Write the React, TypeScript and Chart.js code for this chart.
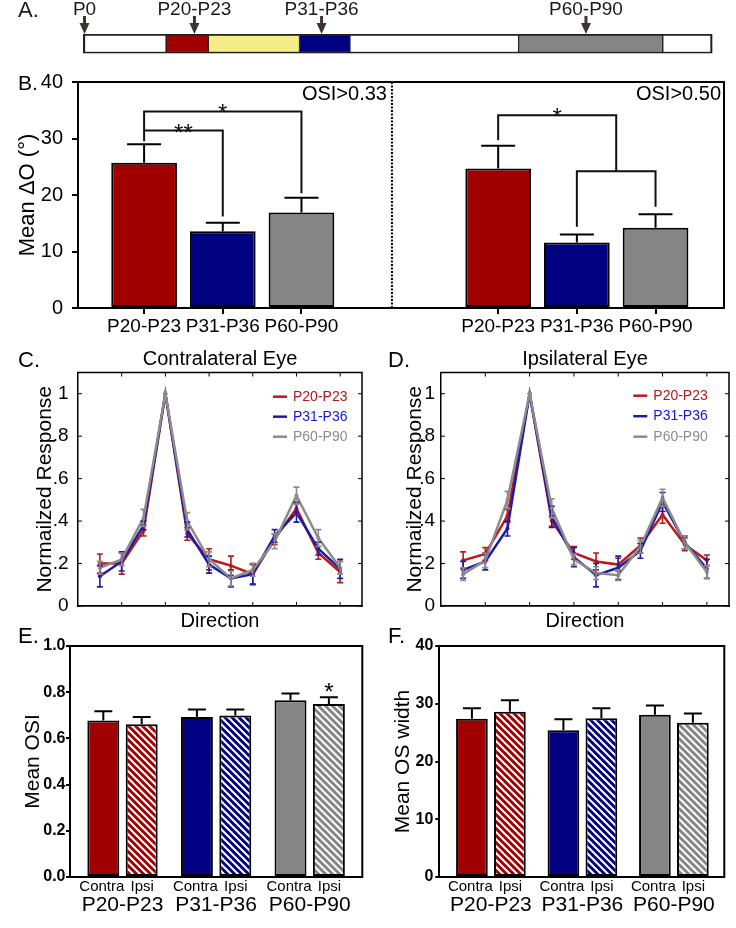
import React, { useEffect, useRef } from 'react';
import { Chart, registerables } from 'chart.js';

Chart.register(...registerables);

const FONT = '"Liberation Sans", Arial, Helvetica, sans-serif';

// ---------------- data ----------------
// A. developmental timeline (segment lengths along the bar, arbitrary units)
const timelineSegments = [13.2, 6.7, 14.5, 8.0, 26.8, 22.9, 7.9];
const timelineMarkLabels = ['P0', 'P20-P23', 'P31-P36', 'P60-P90'];
const timelineMarkValues = [0, 17.7, 37.9, 79.9];

// B. mean delta orientation
const ageGroups = ['P20-P23', 'P31-P36', 'P60-P90'];
const deltaOsi033 = [25.7, 13.6, 16.9];
const deltaOsi033Err = [3.3, 1.5, 2.6];
const deltaOsi050 = [24.7, 11.6, 14.2];
const deltaOsi050Err = [4.0, 1.4, 2.4];
const deltaTicks = [0, 10, 20, 30, 40];
const bracket033 = [34.8, 31.4];
const bracket050 = [34.1, 24.2];

// C, D. tuning curves
const directions = [0, 30, 60, 90, 120, 150, 180, 210, 240, 270, 300, 330];
const directionTicks = [30, 90, 150, 210, 270, 330];
const responseTicks = [0, 0.2, 0.4, 0.6, 0.8, 1];

const contraP20 = [0.2, 0.2, 0.355, 1.0, 0.34, 0.22, 0.19, 0.15, 0.315, 0.46, 0.25, 0.16];
const contraP20Err = [0.045, 0.05, 0.025, 0, 0.03, 0.05, 0.045, 0.045, 0.025, 0.03, 0.03, 0.05];
const contraP31 = [0.14, 0.21, 0.38, 1.0, 0.36, 0.195, 0.13, 0.15, 0.33, 0.44, 0.27, 0.175];
const contraP31Err = [0.05, 0.045, 0.02, 0, 0.035, 0.04, 0.04, 0.05, 0.03, 0.045, 0.03, 0.045];
const contraP60 = [0.18, 0.22, 0.415, 1.0, 0.4, 0.22, 0.13, 0.17, 0.305, 0.52, 0.32, 0.18];
const contraP60Err = [0.03, 0.03, 0.04, 0, 0.04, 0.035, 0.035, 0.03, 0.035, 0.04, 0.04, 0.03];

const ipsiP20 = [0.215, 0.245, 0.425, 1.0, 0.4, 0.25, 0.21, 0.195, 0.285, 0.43, 0.29, 0.215];
const ipsiP20Err = [0.04, 0.03, 0.03, 0, 0.025, 0.03, 0.04, 0.03, 0.035, 0.04, 0.03, 0.025];
const ipsiP31 = [0.17, 0.21, 0.365, 1.0, 0.42, 0.23, 0.145, 0.18, 0.26, 0.49, 0.3, 0.175];
const ipsiP31Err = [0.04, 0.04, 0.035, 0, 0.05, 0.045, 0.055, 0.055, 0.035, 0.045, 0.03, 0.045];
const ipsiP60 = [0.15, 0.215, 0.5, 1.0, 0.46, 0.22, 0.155, 0.145, 0.28, 0.51, 0.3, 0.16];
const ipsiP60Err = [0.03, 0.035, 0.04, 0, 0.045, 0.025, 0.03, 0.025, 0.03, 0.04, 0.03, 0.03];

// E. mean OSI
const osiContra = [0.678, 0.693, 0.765];
const osiContraErr = [0.039, 0.032, 0.029];
const osiIpsi = [0.661, 0.699, 0.749];
const osiIpsiErr = [0.032, 0.026, 0.029];
const osiIpsiSig = ['', '', '*'];
const osiTicks = [0, 0.2, 0.4, 0.6, 0.8, 1.0];

// F. mean OS width
const osWidthContra = [27.4, 25.4, 28.1];
const osWidthContraErr = [1.8, 1.9, 1.6];
const osWidthIpsi = [28.6, 27.5, 26.7];
const osWidthIpsiErr = [2.0, 1.7, 1.6];
const osWidthSig = ['', '', ''];
const osWidthTicks = [0, 10, 20, 30, 40];

// ---------------- styles ----------------
const C_RED = '#a00000';
const C_BLUE = '#000080';
const C_GRAY = '#858585';
const C_YELLOW = '#f3ee86';
const C_WHITE = '#ffffff';
const timelineColors = [C_WHITE, C_RED, C_YELLOW, C_BLUE, C_WHITE, C_GRAY, C_WHITE];
const groupColors = [C_RED, C_BLUE, C_GRAY];
const lineColors = ['#bb1a1a', '#1c1ca8', '#8c8c8c'];
const legendTextColors = ['#b5161b', '#1414e6', '#8c8c8c'];

// ---------------- helpers ----------------
const setTicks = (values: number[]) => (s: any) => {
  s.ticks = values.map((v) => ({ value: v }));
};

function put(
  ctx: CanvasRenderingContext2D,
  text: string,
  x: number,
  y: number,
  size: number,
  align: CanvasTextAlign = 'left',
  color = '#000',
  weight = 'normal',
  baseline: CanvasTextBaseline = 'alphabetic'
) {
  ctx.save();
  ctx.font = `${weight} ${size}px ${FONT}`;
  ctx.fillStyle = color;
  ctx.textAlign = align;
  ctx.textBaseline = baseline;
  ctx.fillText(text, x, y);
  ctx.restore();
}

function makeHatch(color: string) {
  const s = 7;
  const c = document.createElement('canvas');
  c.width = s;
  c.height = s;
  const g = c.getContext('2d')!;
  g.fillStyle = color;
  g.fillRect(0, 0, s, s);
  g.strokeStyle = '#ffffff';
  g.lineWidth = 2;
  g.beginPath();
  g.moveTo(0, 0);
  g.lineTo(s, s);
  g.moveTo(-2, s - 2);
  g.lineTo(2, s + 2);
  g.moveTo(s - 2, -2);
  g.lineTo(s + 2, 2);
  g.stroke();
  return g.createPattern(c, 'repeat');
}

const framePlugin = (lw: number) => ({
  id: 'frame',
  afterDraw(chart: any) {
    const { ctx, chartArea: a } = chart;
    ctx.save();
    ctx.strokeStyle = '#000';
    ctx.lineWidth = lw;
    ctx.beginPath();
    ctx.moveTo(a.left - lw / 2, a.top);
    ctx.lineTo(a.right, a.top);
    ctx.lineTo(a.right, a.bottom + lw / 2);
    ctx.stroke();
    ctx.restore();
  },
});

const textPlugin = (items: (chart: any) => any[]) => ({
  id: 'texts',
  afterDraw(chart: any) {
    items(chart).forEach((t) =>
      put(chart.ctx, t.text, t.x, t.y, t.size, t.align || 'left', t.color || '#000', t.weight || 'normal', t.baseline || 'alphabetic')
    );
  },
});

const barErrorPlugin = (cap: number) => ({
  id: 'barErr',
  afterDatasetsDraw(chart: any) {
    const { ctx } = chart;
    const ys = chart.scales.y;
    ctx.save();
    ctx.strokeStyle = '#000';
    ctx.lineWidth = 2;
    chart.data.datasets.forEach((ds: any, di: number) => {
      const meta = chart.getDatasetMeta(di);
      meta.data.forEach((bar: any, i: number) => {
        const v = ds.data[i].y;
        const e = ds.errors[i];
        const y0 = ys.getPixelForValue(v);
        const y1 = ys.getPixelForValue(v + e);
        ctx.beginPath();
        ctx.moveTo(bar.x, y0);
        ctx.lineTo(bar.x, y1);
        ctx.moveTo(bar.x - cap, y1);
        ctx.lineTo(bar.x + cap, y1);
        ctx.stroke();
        if (ds.sig && ds.sig[i]) {
          put(ctx, ds.sig[i], bar.x, y1 + 3, 24, 'center');
        }
      });
    });
    ctx.restore();
  },
});

const lineErrorPlugin = {
  id: 'lineErr',
  afterDatasetsDraw(chart: any) {
    const { ctx } = chart;
    const ys = chart.scales.y;
    ctx.save();
    ctx.lineWidth = 1.6;
    chart.data.datasets.forEach((ds: any, di: number) => {
      const meta = chart.getDatasetMeta(di);
      ctx.strokeStyle = ds.borderColor;
      meta.data.forEach((pt: any, i: number) => {
        const v = ds.data[i].y;
        const e = ds.errors[i];
        if (!e) return;
        const yTop = ys.getPixelForValue(v + e);
        const yBot = ys.getPixelForValue(v - e);
        ctx.beginPath();
        ctx.moveTo(pt.x, yTop);
        ctx.lineTo(pt.x, yBot);
        ctx.moveTo(pt.x - 3, yTop);
        ctx.lineTo(pt.x + 3, yTop);
        ctx.moveTo(pt.x - 3, yBot);
        ctx.lineTo(pt.x + 3, yBot);
        ctx.stroke();
      });
    });
    ctx.restore();
  },
};

const insideTicksPlugin = {
  id: 'insideTicks',
  afterDraw(chart: any) {
    const { ctx, chartArea: a } = chart;
    const xs = chart.scales.x;
    const ys = chart.scales.y;
    const len = 4;
    ctx.save();
    ctx.strokeStyle = '#000';
    ctx.lineWidth = 1;
    ctx.beginPath();
    ys.ticks.forEach((t: any) => {
      const py = ys.getPixelForValue(t.value);
      ctx.moveTo(a.left, py);
      ctx.lineTo(a.left + len, py);
      ctx.moveTo(a.right - len, py);
      ctx.lineTo(a.right, py);
    });
    xs.ticks.forEach((t: any) => {
      const px = xs.getPixelForValue(t.value);
      ctx.moveTo(px, a.bottom);
      ctx.lineTo(px, a.bottom - len);
      ctx.moveTo(px, a.top);
      ctx.lineTo(px, a.top + len);
    });
    ctx.stroke();
    ctx.restore();
  },
};

const lineLegendPlugin = (x0: number, y0: number, step: number) => ({
  id: 'lineLegend',
  afterDraw(chart: any) {
    const { ctx } = chart;
    chart.data.datasets.forEach((ds: any, i: number) => {
      const y = y0 + i * step;
      ctx.save();
      ctx.strokeStyle = ds.borderColor;
      ctx.lineWidth = 2.5;
      ctx.beginPath();
      ctx.moveTo(x0, y);
      ctx.lineTo(x0 + 14, y);
      ctx.stroke();
      ctx.restore();
      put(ctx, ds.label, x0 + 20, y, 14, 'left', ds.legendColor, 'normal', 'middle');
    });
  },
});

// ---------------- configs ----------------
function configA() {
  const last = timelineSegments.length - 1;
  const timelinePlugin = {
    id: 'timelineMarks',
    afterDraw(chart: any) {
      const { ctx } = chart;
      const xs = chart.scales.x;
      const top = chart.chartArea.top;
      ctx.save();
      ctx.fillStyle = '#3b3430';
      timelineMarkValues.forEach((v, i) => {
        const px = xs.getPixelForValue(v) + (i === 0 ? 1.5 : 0);
        ctx.fillRect(px - 1.5, 16, 3, 9);
        ctx.beginPath();
        ctx.moveTo(px - 5, 23);
        ctx.lineTo(px + 5, 23);
        ctx.lineTo(px, top);
        ctx.closePath();
        ctx.fill();
        put(ctx, timelineMarkLabels[i], px, 15, 19, 'center', '#1a1a1a');
      });
      ctx.restore();
      put(ctx, 'A.', 18, 17, 22, 'left', '#1a1a1a');
    },
  };
  return {
    type: 'bar',
    data: {
      labels: ['age'],
      datasets: timelineSegments.map((v, i) => ({
        data: [v],
        backgroundColor: timelineColors[i],
        borderColor: '#231f20',
        borderWidth: { top: 2, bottom: 2, left: i === 0 ? 2.5 : 1, right: i === last ? 2.5 : 1 },
        borderSkipped: false,
        barPercentage: 1,
        categoryPercentage: 1,
      })),
    },
    options: {
      indexAxis: 'y',
      animation: false,
      responsive: false,
      layout: { padding: { left: 83, right: 23.5, top: 34, bottom: 8.5 } },
      scales: {
        x: { stacked: true, min: 0, max: 100, display: false },
        y: { stacked: true, display: false },
      },
      plugins: { legend: { display: false }, tooltip: { enabled: false } },
    },
    plugins: [timelinePlugin],
  };
}

function configB() {
  const leftPos = ageGroups.map((_, i) => i + 1);
  const rightPos = ageGroups.map((_, i) => i + 5.5);
  const positions = [...leftPos, ...rightPos];
  const values = [...deltaOsi033, ...deltaOsi050];
  const errors = [...deltaOsi033Err, ...deltaOsi050Err];
  const divider = 4.15;

  const bracketPlugin = {
    id: 'brackets',
    afterDatasetsDraw(chart: any) {
      const { ctx, chartArea: a } = chart;
      const xs = chart.scales.x;
      const ys = chart.scales.y;
      const P = (x: number, y: number) => [xs.getPixelForValue(x), ys.getPixelForValue(y)];
      const path = (pts: number[][]) => {
        ctx.beginPath();
        pts.forEach(([x, y], i) => {
          const [px, py] = P(x, y);
          if (i) ctx.lineTo(px, py);
          else ctx.moveTo(px, py);
        });
        ctx.stroke();
      };
      const topL = deltaOsi033.map((v, i) => v + deltaOsi033Err[i]);
      const topR = deltaOsi050.map((v, i) => v + deltaOsi050Err[i]);
      const [h1, h2] = bracket033;
      const [h3, h4] = bracket050;
      ctx.save();
      ctx.strokeStyle = '#111';
      ctx.lineWidth = 2;
      path([[leftPos[0], topL[0] + 0.5], [leftPos[0], h1], [leftPos[2], h1], [leftPos[2], topL[2] + 0.8]]);
      path([[leftPos[0], h2], [leftPos[1], h2], [leftPos[1], topL[1] + 1.1]]);
      const mid = (rightPos[1] + rightPos[2]) / 2;
      path([[rightPos[0], topR[0] + 1], [rightPos[0], h3], [mid, h3], [mid, h4]]);
      path([[rightPos[1], topR[1] + 1.4], [rightPos[1], h4], [rightPos[2], h4], [rightPos[2], topR[2] + 1.3]]);
      // dotted divider
      const dx = xs.getPixelForValue(divider);
      ctx.strokeStyle = '#000';
      ctx.lineWidth = 2;
      ctx.setLineDash([2, 1.5]);
      ctx.beginPath();
      ctx.moveTo(dx, a.top);
      ctx.lineTo(dx, a.bottom);
      ctx.stroke();
      ctx.restore();
      const star = (t: string, x: number, y: number) => {
        const [px, py] = P(x, y);
        put(ctx, t, px, py + 10, 24, 'center', '#111');
      };
      star('*', (leftPos[0] + leftPos[2]) / 2, h1);
      star('**', (leftPos[0] + leftPos[1]) / 2, h2);
      star('*', (rightPos[0] + mid) / 2, h3);
    },
  };

  return {
    type: 'bar',
    data: {
      datasets: [
        {
          data: positions.map((x, i) => ({ x, y: values[i] })),
          errors,
          backgroundColor: [...groupColors, ...groupColors],
          borderColor: '#000',
          borderWidth: 2,
          borderSkipped: false,
          barPercentage: 0.835,
          categoryPercentage: 1,
        },
      ],
    },
    options: {
      animation: false,
      responsive: false,
      layout: { padding: { left: 0, right: 12, top: 22, bottom: 0 } },
      scales: {
        x: {
          type: 'linear',
          offset: false,
          min: 0.16,
          max: 8.37,
          afterBuildTicks: setTicks(positions),
          afterFit: (s: any) => {
            s.height = 42;
          },
          ticks: {
            autoSkip: false,
            maxRotation: 0,
            padding: 1,
            color: '#000',
            font: { family: FONT, size: 19 },
            callback: (_v: any, i: number) => ageGroups[i % ageGroups.length],
          },
          grid: { offset: false, drawOnChartArea: false, drawTicks: true, tickLength: 6, color: '#000', lineWidth: 2 },
          border: { display: true, color: '#000', width: 2 },
        },
        y: {
          min: 0,
          max: 40,
          afterBuildTicks: setTicks(deltaTicks),
          afterFit: (s: any) => {
            s.width = 78;
          },
          ticks: { color: '#000', font: { family: FONT, size: 20 }, padding: 9 },
          grid: { drawOnChartArea: false, drawTicks: true, tickLength: 6, color: '#000', lineWidth: 2 },
          border: { display: true, color: '#000', width: 2 },
          title: {
            display: true,
            text: 'Mean ΔO (°)',
            color: '#000',
            font: { family: FONT, size: 22 },
            padding: { top: 15, bottom: 0 },
          },
        },
      },
      plugins: { legend: { display: false }, tooltip: { enabled: false } },
    },
    plugins: [
      framePlugin(2),
      barErrorPlugin(17),
      bracketPlugin,
      textPlugin((chart: any) => {
        const dx = chart.scales.x.getPixelForValue(divider);
        return [
          { text: 'B.', x: 18, y: 30, size: 21 },
          { text: 'OSI>0.33', x: dx - 5, y: 40, size: 20, align: 'right' },
          { text: 'OSI>0.50', x: chart.chartArea.right - 3, y: 40, size: 20, align: 'right' },
        ];
      }),
    ],
  };
}

const fmtResponse = (v: number) => (v === 0 ? '0' : v === 1 ? '1' : '.' + Math.round(v * 10));

function configTuning(o: {
  title: string;
  letter: string;
  series: number[][];
  errs: number[][];
  yWidth: number;
  tickPad: number;
  padRight: number;
  legendX: number;
  legendY: number;
  legendStep: number;
}) {
  return {
    type: 'line',
    data: {
      datasets: o.series.map((vals, k) => ({
        label: ageGroups[k],
        data: directions.map((d, i) => ({ x: d, y: vals[i] })),
        errors: o.errs[k],
        borderColor: lineColors[k],
        backgroundColor: lineColors[k],
        legendColor: legendTextColors[k],
        borderWidth: 2.5,
        pointRadius: 2,
        pointBorderWidth: 0,
        pointHoverRadius: 2,
        tension: 0,
        order: o.series.length - 1 - k,
      })),
    },
    options: {
      animation: false,
      responsive: false,
      layout: { padding: { left: 0, right: o.padRight, top: 32.5, bottom: 0 } },
      scales: {
        x: {
          type: 'linear',
          min: -30,
          max: 360,
          afterBuildTicks: setTicks(directionTicks),
          afterFit: (s: any) => {
            s.height = 29;
          },
          ticks: { display: false },
          grid: { display: false, drawTicks: false },
          border: { display: true, color: '#000', width: 1.8 },
          title: {
            display: true,
            text: 'Direction',
            color: '#000',
            font: { family: FONT, size: 20 },
            padding: { top: 0, bottom: 1.3 },
          },
        },
        y: {
          min: 0,
          max: 1.1,
          afterBuildTicks: setTicks(responseTicks),
          afterFit: (s: any) => {
            s.width = o.yWidth;
          },
          ticks: { color: '#000', font: { family: FONT, size: 19 }, padding: o.tickPad, callback: fmtResponse },
          grid: { display: false, drawTicks: false },
          border: { display: true, color: '#000', width: 1.5 },
          title: {
            display: true,
            text: 'Normailzed Response',
            color: '#000',
            font: { family: FONT, size: 21 },
            padding: { top: 33, bottom: 0 },
          },
        },
      },
      plugins: { legend: { display: false }, tooltip: { enabled: false } },
    },
    plugins: [
      framePlugin(1.5),
      insideTicksPlugin,
      lineErrorPlugin,
      lineLegendPlugin(o.legendX, o.legendY, o.legendStep),
      textPlugin((chart: any) => [
        { text: o.letter, x: 18, y: 27, size: 22 },
        { text: o.title, x: (chart.chartArea.left + chart.chartArea.right) / 2, y: 25, size: 20, align: 'center' },
      ]),
    ],
  };
}

function configPair(o: {
  letter: string;
  contra: number[];
  contraErr: number[];
  ipsi: number[];
  ipsiErr: number[];
  sig: string[];
  ticks: number[];
  yMax: number;
  fmt: (v: number) => string;
  yTitle: string;
  yWidth: number;
  padRight: number;
  xMin: number;
  xMax: number;
  catPct: number;
  barPct: number;
  tickPad: number;
}) {
  const pos = ageGroups.map((_, i) => i + 1);
  const common = {
    borderColor: '#000',
    borderWidth: 2,
    borderSkipped: false,
    barPercentage: o.barPct,
    categoryPercentage: o.catPct,
  };
  const subLabelPlugin = {
    id: 'subLabels',
    afterDraw(chart: any) {
      chart.data.datasets.forEach((ds: any, di: number) => {
        chart.getDatasetMeta(di).data.forEach((bar: any) => {
          const dx = di === 0 ? -1.5 : 0.5;
          put(chart.ctx, ds.label, bar.x + dx, chart.chartArea.bottom + 10, 15, 'center', '#000', 'normal', 'middle');
        });
      });
    },
  };
  return {
    type: 'bar',
    data: {
      datasets: [
        {
          label: 'Contra',
          data: pos.map((x, i) => ({ x, y: o.contra[i] })),
          errors: o.contraErr,
          backgroundColor: groupColors,
          ...common,
        },
        {
          label: 'Ipsi',
          data: pos.map((x, i) => ({ x, y: o.ipsi[i] })),
          errors: o.ipsiErr,
          sig: o.sig,
          backgroundColor: groupColors.map((c) => makeHatch(c)),
          ...common,
        },
      ],
    },
    options: {
      animation: false,
      responsive: false,
      layout: { padding: { left: 0, right: o.padRight, top: 31, bottom: 0 } },
      scales: {
        x: {
          type: 'linear',
          offset: false,
          min: o.xMin,
          max: o.xMax,
          afterBuildTicks: setTicks(pos),
          afterFit: (s: any) => {
            s.height = 51;
          },
          ticks: {
            autoSkip: false,
            maxRotation: 0,
            color: '#000',
            font: { family: FONT, size: 21 },
            padding: 15.5,
            callback: (_v: any, i: number) => ageGroups[i],
          },
          grid: { display: false, drawTicks: false, offset: false },
          border: { display: true, color: '#000', width: 2 },
        },
        y: {
          min: 0,
          max: o.yMax,
          afterBuildTicks: setTicks(o.ticks),
          afterFit: (s: any) => {
            s.width = o.yWidth;
          },
          ticks: {
            color: '#000',
            font: { family: FONT, size: 16, weight: 'bold' },
            padding: o.tickPad,
            callback: o.fmt,
          },
          grid: { drawOnChartArea: false, drawTicks: true, tickLength: 4, color: '#000', lineWidth: 2 },
          border: { display: true, color: '#000', width: 2 },
          title: {
            display: true,
            text: o.yTitle,
            color: '#000',
            font: { family: FONT, size: 21 },
            padding: { top: 20.4, bottom: 0 },
          },
        },
      },
      plugins: { legend: { display: false }, tooltip: { enabled: false } },
    },
    plugins: [
      framePlugin(2),
      barErrorPlugin(9),
      subLabelPlugin,
      textPlugin(() => [{ text: o.letter, x: 18, y: 28, size: 22 }]),
    ],
  };
}

// ---------------- components ----------------
function ChartBox(props: { left: number; top: number; width: number; height: number; make: () => any }) {
  const ref = useRef<HTMLCanvasElement>(null);
  useEffect(() => {
    if (!ref.current) return;
    const chart = new Chart(ref.current, props.make());
    return () => chart.destroy();
  }, []);
  return (
    <canvas
      ref={ref}
      width={props.width}
      height={props.height}
      style={{ position: 'absolute', left: props.left, top: props.top, width: props.width, height: props.height }}
    />
  );
}

export default function App() {
  return (
    <div style={{ position: 'absolute', left: 0, top: 0, width: 736, height: 928, background: '#fff', overflow: 'hidden' }}>
      <ChartBox left={0} top={0} width={736} height={62} make={configA} />
      <ChartBox left={0} top={60} width={736} height={290} make={configB} />
      <ChartBox
        left={0}
        top={340}
        width={370}
        height={295}
        make={() =>
          configTuning({
            title: 'Contralateral Eye',
            letter: 'C.',
            series: [contraP20, contraP31, contraP60],
            errs: [contraP20Err, contraP31Err, contraP60Err],
            yWidth: 78,
            tickPad: 9.5,
            padRight: 8,
            legendX: 273,
            legendY: 56.7,
            legendStep: 20,
          })
        }
      />
      <ChartBox
        left={370}
        top={340}
        width={366}
        height={295}
        make={() =>
          configTuning({
            title: 'Ipsilateral Eye',
            letter: 'D.',
            series: [ipsiP20, ipsiP31, ipsiP60],
            errs: [ipsiP20Err, ipsiP31Err, ipsiP60Err],
            yWidth: 71,
            tickPad: 6,
            padRight: 7,
            legendX: 263.3,
            legendY: 55.7,
            legendStep: 20.5,
          })
        }
      />
      <ChartBox
        left={0}
        top={615}
        width={370}
        height={313}
        make={() =>
          configPair({
            letter: 'E.',
            contra: osiContra,
            contraErr: osiContraErr,
            ipsi: osiIpsi,
            ipsiErr: osiIpsiErr,
            sig: osiIpsiSig,
            ticks: osiTicks,
            yMax: 1,
            fmt: (v: number) => v.toFixed(1),
            yTitle: 'Mean OSI',
            yWidth: 70,
            padRight: 7.7,
            xMin: 0.439,
            xMax: 3.562,
            catPct: 0.82,
            barPct: 0.833,
            tickPad: 0.5,
          })
        }
      />
      <ChartBox
        left={370}
        top={615}
        width={366}
        height={313}
        make={() =>
          configPair({
            letter: 'F.',
            contra: osWidthContra,
            contraErr: osWidthContraErr,
            ipsi: osWidthIpsi,
            ipsiErr: osWidthIpsiErr,
            sig: osWidthSig,
            ticks: osWidthTicks,
            yMax: 40,
            fmt: (v: number) => String(v),
            yTitle: 'Mean OS width',
            yWidth: 69.3,
            padRight: 11.7,
            xMin: 0.436,
            xMax: 3.551,
            catPct: 0.83,
            barPct: 0.835,
            tickPad: 2,
          })
        }
      />
    </div>
  );
}
